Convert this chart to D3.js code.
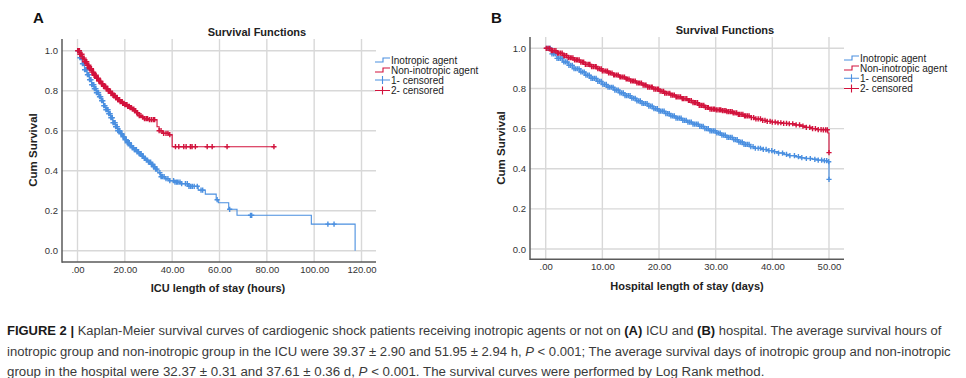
<!DOCTYPE html>
<html><head><meta charset="utf-8">
<script src="https://cdn.jsdelivr.net/npm/d3@7"></script>
<style>body{margin:0;background:#fff}svg{display:block}</style>
</head><body>
<svg id="c" width="966" height="378"></svg>
<script>
// ---------- DATA ----------
// Panel A: ICU length of stay (hours)
const aXTicks = [0,20,40,60,80,100,120];
const aXTickLabels = [".00","20.00","40.00","60.00","80.00","100.00","120.00"];
const yTicks = [0,0.2,0.4,0.6,0.8,1.0];
const yTickLabels = ["0.0","0.2","0.4","0.6","0.8","1.0"];

const aInoT = [0,1,2,3,4,5,6,7,8,9,10,11,12,13,14,15,16,17,18,19,20,21,22,23,24,25,26,27,28,29,30,31,32,33,34,35,37,39,41,44,47,51,54,58.6,59.5,63.9,67.4,98.8,117.3];
const aInoS = [1.0,0.965,0.935,0.905,0.88,0.855,0.83,0.81,0.79,0.77,0.75,0.725,0.705,0.685,0.665,0.64,0.62,0.60,0.585,0.57,0.555,0.54,0.525,0.515,0.505,0.495,0.485,0.472,0.462,0.453,0.443,0.432,0.42,0.408,0.39,0.37,0.36,0.35,0.343,0.335,0.322,0.303,0.283,0.255,0.24,0.207,0.177,0.133,0.0];
const aInoCens = [0.2,0.5,0.8,1.0,1.2,1.5,1.7,2.1,2.4,2.6,3.0,3.3,3.5,3.9,4.2,4.4,4.8,5.1,5.3,5.7,6.0,6.2,6.6,6.9,7.1,7.5,7.8,8.0,8.4,8.7,8.9,9.3,9.6,9.8,10.2,10.5,10.7,11.1,11.4,11.6,12.0,12.3,12.5,12.9,13.2,13.4,13.8,14.1,14.3,14.7,15.0,15.2,15.6,15.9,16.1,16.5,16.8,17.0,17.4,17.7,17.9,18.3,18.6,18.8,19.2,19.5,19.7,20.1,20.4,20.6,21.0,21.3,21.5,21.9,22.2,22.4,22.8,23.1,23.3,23.7,24.0,24.2,24.6,24.9,25.1,25.5,25.8,26.0,26.4,26.7,26.9,27.3,27.6,27.8,28.2,28.5,28.7,29.1,29.4,29.6,30.0,30.3,30.5,30.9,31.2,31.4,31.8,32.1,32.3,32.7,33.0,33.2,33.6,34.8,35.3,35.9,36.6,37.4,38.2,39.0,40.6,41.2,41.9,42.5,43.3,44.0,45.6,46.4,47.1,47.8,48.5,49.3,50.6,52.2,52.9,59.0,64.3,73.1,73.6,105.8,108.4];

const aNonT = [0,1,2,3,4,5,6,7,8,9,10,11,12,13,14,15,16,17,18,19,20,21,22,23,24,25,26,27,28,30,33.6,34.5,36,38.6,40];
const aNonS = [1.0,0.982,0.963,0.945,0.927,0.91,0.893,0.877,0.862,0.848,0.835,0.822,0.81,0.798,0.787,0.776,0.765,0.755,0.745,0.737,0.73,0.722,0.715,0.708,0.70,0.69,0.675,0.668,0.66,0.655,0.62,0.60,0.587,0.58,0.52];
const aNonCens = [0.1,0.4,0.6,0.8,1.0,1.3,1.5,1.7,1.9,2.1,2.3,2.6,2.8,3.0,3.2,3.5,3.7,3.9,4.1,4.3,4.5,4.8,5.0,5.2,5.4,5.7,5.9,6.1,6.3,6.6,6.8,7.0,7.2,7.4,7.6,7.9,8.1,8.3,8.5,8.8,9.0,9.2,9.4,9.6,9.8,10.1,10.3,10.5,10.7,11.0,11.2,11.4,11.6,11.9,12.1,12.3,12.5,12.8,13.0,13.2,13.4,13.7,13.9,14.1,14.3,14.6,14.8,15.0,15.2,15.5,15.7,15.9,16.1,16.4,16.6,16.8,17.0,17.3,17.5,17.8,18.0,18.3,18.6,18.9,19.1,19.4,19.7,20.0,20.3,20.6,20.9,21.2,21.5,21.9,22.2,22.5,22.8,23.2,23.5,23.8,24.1,24.6,25.0,25.4,26.1,26.8,27.5,28.3,29.0,29.6,30.4,31.2,32.0,32.6,34.5,35.3,36.4,37.4,38.2,39.0,41.4,42.8,44.9,45.9,47.7,48.4,49.8,54.8,56.9,63.2,83.0];

// Panel B: Hospital length of stay (days)
const bXTicks = [0,10,20,30,40,50];
const bXTickLabels = [".00","10.00","20.00","30.00","40.00","50.00"];

const bInoT = [0,1,2,3,4,5,6,7,8,9,10,11,12,13,14,15,16,17,18,19,20,21,22,23,24,25,26,27,28,29,30,31,32,33,34,35,36,37,38,39,40,41,42,43,44,45,46,47,48,49,49.9,50];
const bInoS = [1.0,0.972,0.95,0.932,0.915,0.898,0.882,0.866,0.85,0.835,0.82,0.806,0.792,0.778,0.764,0.751,0.738,0.725,0.712,0.699,0.687,0.675,0.663,0.652,0.641,0.632,0.622,0.611,0.6,0.589,0.578,0.567,0.556,0.545,0.533,0.521,0.51,0.502,0.496,0.49,0.485,0.478,0.471,0.465,0.46,0.455,0.451,0.447,0.443,0.44,0.435,0.347];
const bInoCens = [0.2,0.5,0.8,1.1,1.4,1.7,2.0,2.3,2.6,2.9,3.2,3.5,3.8,4.1,4.4,4.7,5.0,5.3,5.6,5.9,6.2,6.5,6.8,7.1,7.4,7.7,8.0,8.3,8.6,8.9,9.2,9.5,9.8,10.1,10.4,10.7,11.0,11.3,11.6,11.9,12.2,12.5,12.8,13.1,13.4,13.7,14.0,14.3,14.6,14.9,15.2,15.5,15.8,16.1,16.4,16.7,17.0,17.3,17.6,17.9,18.2,18.5,18.8,19.1,19.4,19.7,20.0,20.3,20.6,20.9,21.2,21.5,21.8,22.1,22.4,22.7,23.0,23.3,23.6,23.9,24.2,24.5,24.8,25.1,25.4,25.7,26.0,26.3,26.6,26.9,27.2,27.5,27.8,28.1,28.4,28.7,29.0,29.3,29.6,29.9,30.2,30.5,30.8,31.1,31.4,31.7,32.0,32.3,32.6,32.9,33.2,33.5,33.8,34.1,34.4,34.7,35.0,35.3,35.6,35.9,36.2,36.6,37.0,37.5,37.9,38.4,38.9,39.4,39.9,40.4,41.1,41.8,42.5,43.1,43.9,44.6,45.2,46.0,46.7,47.5,48.1,48.7,49.2,49.6,49.95,50.0];

const bNonT = [0,1,2,3,4,5,6,7,8,9,10,11,12,13,14,15,16,17,18,19,20,21,22,23,24,25,26,27,28,29,30,31,32,33,34,35,36,37,38,39,40,41,42,43,44,45,46,47,48,49,49.8,50];
const bNonS = [1.0,0.988,0.976,0.964,0.953,0.942,0.931,0.92,0.909,0.898,0.887,0.877,0.867,0.857,0.847,0.837,0.827,0.817,0.807,0.797,0.786,0.776,0.767,0.758,0.749,0.74,0.729,0.716,0.705,0.697,0.693,0.689,0.684,0.678,0.671,0.663,0.655,0.648,0.641,0.636,0.632,0.629,0.626,0.624,0.618,0.612,0.606,0.6,0.595,0.594,0.578,0.48];
const bNonCens = [0.1,0.4,0.7,1.0,1.2,1.5,1.8,2.1,2.3,2.6,2.9,3.2,3.4,3.7,4.0,4.3,4.5,4.8,5.1,5.4,5.6,5.9,6.2,6.5,6.7,7.0,7.3,7.6,7.8,8.1,8.4,8.7,8.9,9.2,9.5,9.8,10.0,10.3,10.6,10.9,11.1,11.4,11.7,12.0,12.2,12.5,12.8,13.1,13.3,13.6,13.9,14.2,14.4,14.7,15.0,15.3,15.5,15.8,16.1,16.4,16.6,16.9,17.2,17.5,17.7,18.0,18.3,18.6,18.8,19.1,19.4,19.7,19.9,20.2,20.5,20.8,21.0,21.3,21.6,21.9,22.1,22.4,22.7,23.0,23.2,23.5,23.8,24.1,24.3,24.6,24.9,25.2,25.4,25.7,26.0,26.3,26.5,26.8,27.1,27.4,27.6,27.9,28.2,28.5,28.7,29.0,29.3,29.6,29.8,30.1,30.4,30.7,30.9,31.2,31.5,31.8,32.0,32.3,32.6,32.9,33.1,33.4,33.7,34.0,34.2,34.5,34.8,35.1,35.3,35.6,35.9,36.3,36.7,37.1,37.5,37.9,38.3,38.7,39.1,39.6,40.0,40.5,41.0,41.5,42.0,42.5,43.0,43.6,44.2,44.8,45.4,46.0,46.6,47.1,47.6,48.1,48.6,49.0,49.4,49.7,50.0];

const legendLabels = ["Inotropic agent","Non-inotropic agent","1- censored","2- censored"];
const titleText = "Survival Functions";
const yLabel = "Cum Survival";

// ---------- DRAW ----------
const svg = d3.select("#c");
svg.append("rect").attr("width",966).attr("height",378).attr("fill","#fff");
const BLUE = "#4a8fe0", RED = "#d2123c";
const FONT = "'Liberation Sans', Arial, sans-serif";

function survAt(T,S,c){ const i = d3.bisectRight(T,c)-1; return S[Math.max(0,i)]; }

function panel(cfg){
  const g = svg.append("g");
  const x = d3.scaleLinear().domain([0,cfg.xmax]).range(cfg.xr);
  const y = d3.scaleLinear().domain([0,1]).range(cfg.yr);
  g.selectAll(".gx").data(cfg.xticks).join("line")
    .attr("x1",d=>x(d)).attr("x2",d=>x(d)).attr("y1",cfg.top).attr("y2",cfg.bottom)
    .attr("stroke","#d8d8d8").attr("stroke-width",1.4);
  g.selectAll(".gy").data(yTicks).join("line")
    .attr("x1",cfg.left).attr("x2",cfg.right).attr("y1",d=>y(d)).attr("y2",d=>y(d))
    .attr("stroke","#d8d8d8").attr("stroke-width",1.4);
  const ax = g.append("g").attr("transform",`translate(0,${cfg.bottom})`)
    .call(d3.axisBottom(x).tickValues(cfg.xticks).tickSize(0).tickPadding(4).tickFormat((d,i)=>cfg.xlabels[i]));
  ax.select(".domain").remove();
  ax.selectAll("text").attr("font-family",FONT).attr("font-size",9.5).attr("fill","#333");
  const ay = g.append("g").attr("transform",`translate(${cfg.left},0)`)
    .call(d3.axisLeft(y).tickValues(yTicks).tickSize(0).tickPadding(4).tickFormat((d,i)=>yTickLabels[i]));
  ay.select(".domain").remove();
  ay.selectAll("text").attr("font-family",FONT).attr("font-size",9.5).attr("fill","#333");
  g.append("line").attr("x1",cfg.left).attr("x2",cfg.left).attr("y1",cfg.top).attr("y2",cfg.bottom+0.7)
    .attr("stroke","#5a5a5a").attr("stroke-width",1.5);
  g.append("line").attr("x1",cfg.left).attr("x2",cfg.right).attr("y1",cfg.bottom).attr("y2",cfg.bottom)
    .attr("stroke","#5a5a5a").attr("stroke-width",1.5);

  const line = d3.line().x(d=>x(d[0])).y(d=>y(d[1])).curve(d3.curveStepAfter);
  cfg.series.forEach(s=>{
    const pts = s.T.map((t,i)=>[t,s.S[i]]);
    const lastC = d3.max(s.C);
    if(lastC > s.T[s.T.length-1]) pts.push([lastC, s.S[s.S.length-1]]);
    g.append("path").attr("d",line(pts)).attr("fill","none").attr("stroke",s.color).attr("stroke-width",1.1);
    const r = 2.6;
    g.append("path").attr("d", s.C.map(c=>{
        const px = x(c), py = y(survAt(s.T,s.S,c));
        return `M${px-r},${py}H${px+r}M${px},${py-r}V${py+r}`;
      }).join(""))
      .attr("fill","none").attr("stroke",s.color).attr("stroke-width",1.4);
  });

  g.append("text").attr("x",cfg.titleX).attr("y",cfg.titleY).attr("text-anchor","middle")
    .attr("font-family",FONT).attr("font-weight","bold").attr("font-size",11).attr("fill","#222").text(titleText);
  g.append("text").attr("transform",`translate(${cfg.ylabX},${cfg.ylabY}) rotate(-90)`).attr("text-anchor","middle")
    .attr("font-family",FONT).attr("font-weight","bold").attr("font-size",11.5).attr("fill","#222").text(yLabel);
  g.append("text").attr("x",cfg.xlabX).attr("y",cfg.xlabY).attr("text-anchor","middle")
    .attr("font-family",FONT).attr("font-weight","bold").attr("font-size",11).attr("fill","#222").text(cfg.xTitle);
  g.append("text").attr("x",cfg.letterX).attr("y",23).attr("font-family",FONT).attr("font-weight","bold")
    .attr("font-size",15).attr("fill","#111").text(cfg.letter);

  const lg = g.append("g");
  const cols = [BLUE,RED,BLUE,RED];
  legendLabels.forEach((lab,i)=>{
    const cy = cfg.legY[i], x0 = cfg.legX, x1 = cfg.legX+15;
    if(i<2){
      lg.append("path").attr("d",`M${x0},${cy+2}H${x0+8}V${cy-2}H${x1}`).attr("fill","none")
        .attr("stroke",cols[i]).attr("stroke-width",1.1);
    } else {
      lg.append("path").attr("d",`M${x0},${cy}H${x1}M${x0+7.5},${cy-4}V${cy+4}`).attr("fill","none")
        .attr("stroke",cols[i]).attr("stroke-width",1.1);
    }
    lg.append("text").attr("x",x1+1).attr("y",cy+3.5).attr("font-family",FONT).attr("font-size",10)
      .attr("fill","#222").text(lab);
  });
}

panel({letter:"A",letterX:33,xmax:120,xr:[77.5,361.5],yr:[250.7,50.7],left:62,right:376,top:39,bottom:262,
  xticks:aXTicks,xlabels:aXTickLabels,titleX:257,titleY:36,ylabX:37,ylabY:150,xlabX:218,xlabY:292,
  xTitle:"ICU length of stay (hours)",legX:375,legY:[60,70,80,90.5],
  series:[{T:aInoT,S:aInoS,C:aInoCens,color:BLUE},{T:aNonT,S:aNonS,C:aNonCens,color:RED}]});

panel({letter:"B",letterX:491,xmax:50,xr:[545.7,829],yr:[249,48.3],left:530,right:844,top:37,bottom:259.3,
  xticks:bXTicks,xlabels:bXTickLabels,titleX:725,titleY:34,ylabX:505,ylabY:148,xlabX:687,xlabY:290,
  xTitle:"Hospital length of stay (days)",legX:844,legY:[58,68,78.3,88.5],
  series:[{T:bInoT,S:bInoS,C:bInoCens,color:BLUE},{T:bNonT,S:bNonS,C:bNonCens,color:RED}]});

// caption
const CFONT = "'Liberation Sans Narrow','Arial Narrow','Liberation Sans',Arial,sans-serif";
const captionLines = [
  {y:335,w:935,parts:[["FIGURE 2 |","b"],[" Kaplan-Meier survival curves of cardiogenic shock patients receiving inotropic agents or not on ",""],["(A)","b"],[" ICU and ",""],["(B)","b"],[" hospital. The average survival hours of",""]]},
  {y:356,w:945,parts:[["inotropic group and non-inotropic group in the ICU were 39.37 ± 2.90 and 51.95 ± 2.94 h, ",""],["P","i"],[" < 0.001; The average survival days of inotropic group and non-inotropic",""]]},
  {y:376,w:758,parts:[["group in the hospital were 32.37 ± 0.31 and 37.61 ± 0.36 d, ",""],["P","i"],[" < 0.001. The survival curves were performed by Log Rank method.",""]]}
];
captionLines.forEach(L=>{
  const t = svg.append("text").attr("x",0).attr("y",0).attr("font-family",CFONT).attr("font-size",13.5)
    .attr("fill","#3a3a3a").attr("xml:space","preserve");
  L.parts.forEach(p=>{
    const ts = t.append("tspan").text(p[0]);
    if(p[1]==="b") ts.attr("font-weight","bold").attr("fill","#1a1a1a");
    if(p[1]==="i") ts.attr("font-style","italic");
  });
  const w = t.node().getComputedTextLength();
  t.attr("transform",`translate(7,${L.y}) scale(${L.w/w},1)`);
});
</script>
</body></html>
